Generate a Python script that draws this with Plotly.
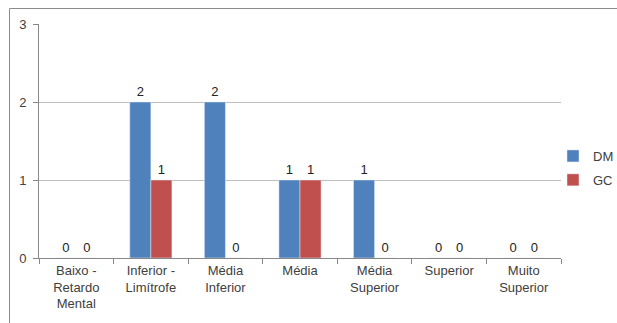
import plotly.graph_objects as go

categories = ["Baixo -<br>Retardo<br>Mental", "Inferior -<br>Limítrofe", "Média<br>Inferior",
              "Média", "Média<br>Superior", "Superior", "Muito<br>Superior"]
dm_values = [0, 2, 2, 1, 1, 0, 0]
gc_values = [0, 1, 0, 1, 0, 0, 0]
y_ticks = [0, 1, 2, 3]

font_family = "Liberation Sans"
text_color = "#404040"

fig = go.Figure()
fig.add_trace(go.Bar(name="DM", x=categories, y=dm_values, marker_color="#4F81BD",
                     legendgroup="dm",
                     text=dm_values, textposition="outside", cliponaxis=False,
                     textfont=dict(size=13, color="#222222")))
fig.add_trace(go.Bar(name="GC", x=categories, y=gc_values, marker_color="#C0504D",
                     legendgroup="gc",
                     text=gc_values, textposition="outside", cliponaxis=False,
                     textfont=dict(size=13, color="#222222")))

W, H = 617, 323
L, R, T, B = 39, 56, 24, 65
pw, ph = W - L - R, H - T - B

fig.update_layout(
    width=W, height=H,
    margin=dict(l=L, r=R, t=T, b=B, autoexpand=False),
    paper_bgcolor="white", plot_bgcolor="white",
    barmode="group", bargap=0.435, bargroupgap=0,
    font=dict(family=font_family, size=13, color=text_color),
    legend=dict(x=(553 - L) / pw, y=(258 - 168) / ph, xanchor="left", yanchor="middle",
                font=dict(size=13, color=text_color), tracegroupgap=4,
                bgcolor="rgba(0,0,0,0)"),
    showlegend=True,
    xaxis=dict(showline=True, linecolor="#888888", linewidth=1,
               ticks="outside", tickson="boundaries", ticklen=5, tickcolor="#888888",
               showgrid=False, tickfont=dict(size=13, color=text_color)),
    yaxis=dict(range=[0, 3], tickvals=y_ticks, showline=True, linecolor="#888888",
               linewidth=1, ticks="outside", ticklen=5, tickcolor="#888888",
               showgrid=True, gridcolor="#BFBFBF", gridwidth=1, zeroline=False,
               tickfont=dict(size=13, color=text_color), ticklabelstandoff=4),
    shapes=[dict(type="rect", xref="paper", yref="paper",
                 x0=(9.5 - L) / pw, x1=(W + 5 - L) / pw,
                 y0=(258 - (H + 5)) / ph, y1=1 + (T - 8.5) / ph,
                 line=dict(color="#8C8C8C", width=1), layer="below")],
)

fig.write_html("out.html")
